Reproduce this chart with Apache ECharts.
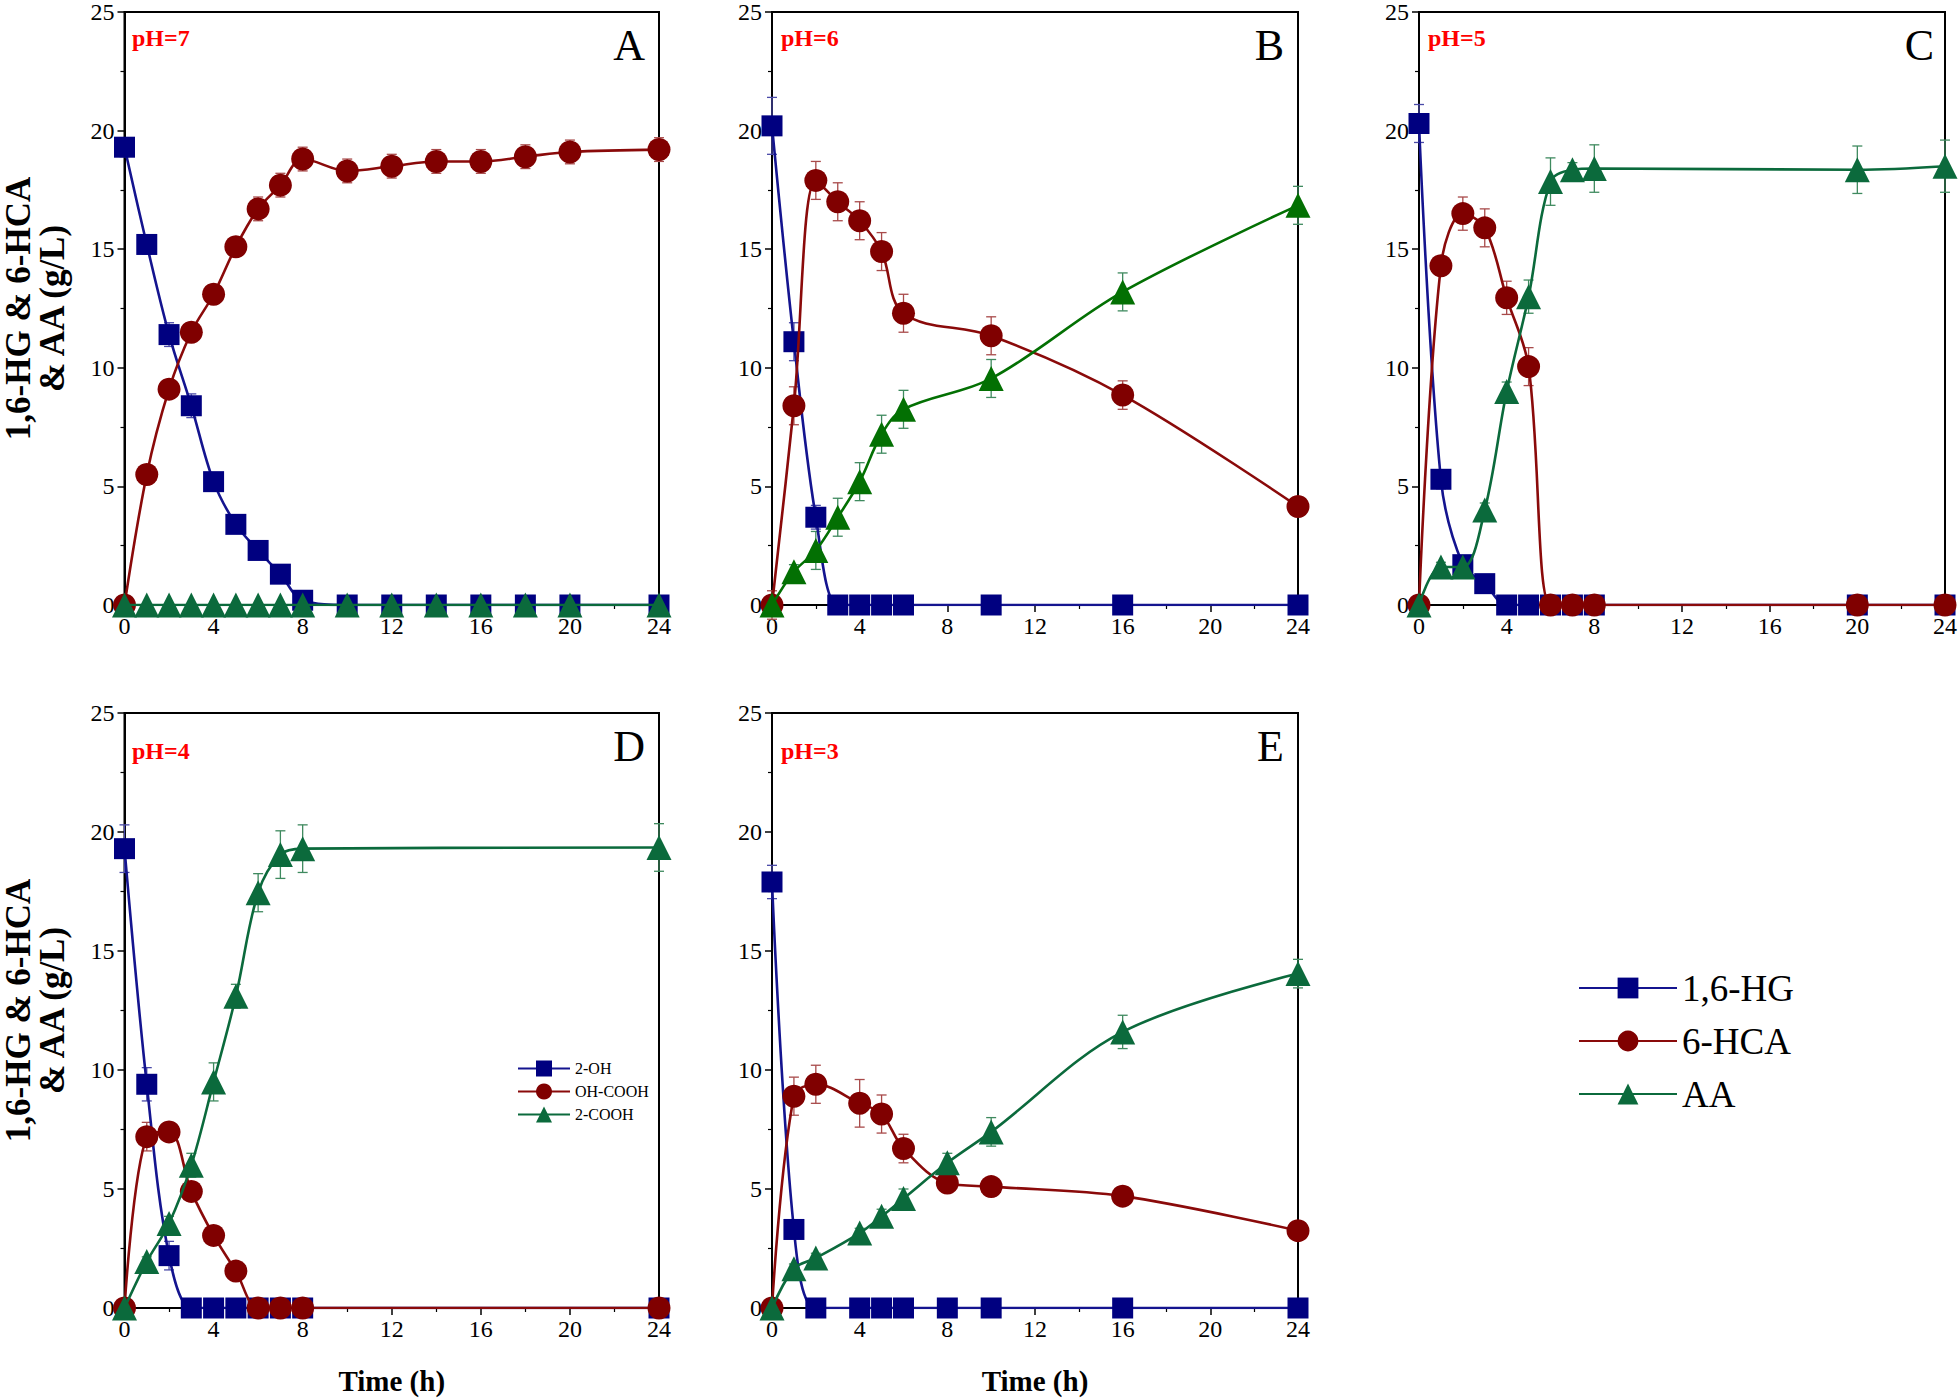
<!DOCTYPE html>
<html>
<head>
<meta charset="utf-8">
<script src="https://cdn.jsdelivr.net/npm/echarts@6/dist/echarts.min.js"></script>
<style>
html,body{margin:0;padding:0;background:#fff;}
#chart{width:1960px;height:1398px;}
</style>
</head>
<body>
<div id="chart"></div>
<script>
// ---------- data ----------
const seriesNames = ['1,6-HG', '6-HCA', 'AA'];
const insetNames = ['2-OH', 'OH-COOH', '2-COOH'];
const xTicks = [0, 4, 8, 12, 16, 20, 24];
const yTicks = [0, 5, 10, 15, 20, 25];

// Panel A, pH=7
const tA = [0, 1, 2, 3, 4, 5, 6, 7, 8, 10, 12, 14, 16, 18, 20, 24];
const hgA = [19.3, 15.2, 11.4, 8.4, 5.2, 3.4, 2.3, 1.3, 0.2, 0, 0, 0, 0, 0, 0, 0];
const hgErrA = [0.4, 0.4, 0.5, 0.5, 0.3, 0.2, 0.2, 0.2, 0.2, 0, 0, 0, 0, 0, 0, 0];
const hcaA = [0, 5.5, 9.1, 11.5, 13.1, 15.1, 16.7, 17.7, 18.8, 18.3, 18.5, 18.7, 18.7, 18.9, 19.1, 19.2];
const hcaErrA = [0.3, 0.3, 0.3, 0.3, 0.3, 0.4, 0.5, 0.5, 0.5, 0.5, 0.5, 0.5, 0.5, 0.5, 0.5, 0.5];
const aaA = [0, 0, 0, 0, 0, 0, 0, 0, 0, 0, 0, 0, 0, 0, 0, 0];
const aaErrA = [0, 0, 0, 0, 0, 0, 0, 0, 0, 0, 0, 0, 0, 0, 0, 0];

// Panel B, pH=6
const tB = [0, 1, 2, 3, 4, 5, 6, 10, 16, 24];
const hgB = [20.2, 11.1, 3.7, 0, 0, 0, 0, 0, 0, 0];
const hgErrB = [1.2, 0.8, 0.5, 0, 0, 0, 0, 0, 0, 0];
const hcaB = [0, 8.4, 17.9, 17.0, 16.2, 14.9, 12.3, 11.35, 8.85, 4.15];
const hcaErrB = [0.6, 0.8, 0.8, 0.8, 0.8, 0.8, 0.8, 0.8, 0.6, 0.3];
const aaB = [0, 1.4, 2.3, 3.7, 5.2, 7.2, 8.25, 9.55, 13.2, 16.85];
const aaErrB = [0, 0.3, 0.8, 0.8, 0.8, 0.8, 0.8, 0.8, 0.8, 0.8];

// Panel C, pH=5
const tC = [0, 1, 2, 3, 4, 5, 6, 7, 8, 20, 24];
const hgC = [20.3, 5.3, 1.7, 0.9, 0, 0, 0, 0, 0, 0, 0];
const hgErrC = [0.8, 0.4, 0.3, 0.2, 0, 0, 0, 0, 0, 0, 0];
const hcaC = [0, 14.3, 16.5, 15.9, 12.95, 10.05, 0, 0, 0, 0, 0];
const hcaErrC = [0, 0.3, 0.7, 0.8, 0.7, 0.8, 0, 0, 0, 0.3, 0];
const aaC = [0, 1.6, 1.6, 4.0, 9.0, 13.0, 17.85, 18.35, 18.4, 18.35, 18.5];
const aaErrC = [0, 0.2, 0.2, 0.3, 0.4, 0.7, 1.0, 0.3, 1.0, 1.0, 1.1];

// Panel D, pH=4
const tD = [0, 1, 2, 3, 4, 5, 6, 7, 8, 24];
const hgD = [19.3, 9.4, 2.2, 0, 0, 0, 0, 0, 0, 0];
const hgErrD = [1.0, 0.7, 0.6, 0, 0, 0, 0, 0, 0, 0];
const hcaD = [0, 7.2, 7.4, 4.9, 3.05, 1.55, 0, 0, 0, 0];
const hcaErrD = [0, 0.6, 0.4, 0.2, 0.2, 0.2, 0, 0, 0, 0];
const aaD = [0, 1.95, 3.55, 6.0, 9.5, 13.1, 17.45, 19.05, 19.3, 19.35];
const aaErrD = [0, 0.2, 0.3, 0.5, 0.8, 0.5, 0.8, 1.0, 1.0, 1.0];

// Panel E, pH=3
const tE = [0, 1, 2, 4, 5, 6, 8, 10, 16, 24];
const hgE = [17.9, 3.3, 0, 0, 0, 0, 0, 0, 0, 0];
const hgErrE = [0.7, 0.3, 0, 0, 0, 0, 0, 0, 0, 0];
const hcaE = [0, 8.9, 9.4, 8.6, 8.15, 6.7, 5.25, 5.1, 4.7, 3.25];
const hcaErrE = [0, 0.8, 0.8, 1.0, 0.8, 0.6, 0.4, 0.2, 0.2, 0.2];
const aaE = [0, 1.65, 2.1, 3.15, 3.85, 4.6, 6.1, 7.4, 11.6, 14.05];
const aaErrE = [0, 0.2, 0.2, 0.2, 0.3, 0.4, 0.4, 0.6, 0.7, 0.6];

const phLabels = ['pH=7', 'pH=6', 'pH=5', 'pH=4', 'pH=3'];
const panelLetters = ['A', 'B', 'C', 'D', 'E'];
const yTitle = '1,6-HG & 6-HCA\n& AA (g/L)';
const xTitle = 'Time (h)';

// ---------- layout & style ----------
const FONT = '"Liberation Serif", "Times New Roman", serif';
const panels = [
  {t: tA, v: [hgA, hcaA, aaA], e: [hgErrA, hcaErrA, aaErrA], grid: {left: 123, top: 11, width: 536, height: 594}, phLeft: 132, phTop: 26, letTop: 23, yName: true, xName: false, names: seriesNames, green: '#0b6a3c'},
  {t: tB, v: [hgB, hcaB, aaB], e: [hgErrB, hcaErrB, aaErrB], grid: {left: 772, top: 11, width: 526, height: 594}, phLeft: 781, phTop: 26, letTop: 23, yName: false, xName: false, names: seriesNames, green: '#037003'},
  {t: tC, v: [hgC, hcaC, aaC], e: [hgErrC, hcaErrC, aaErrC], grid: {left: 1419, top: 11, width: 529, height: 594}, phLeft: 1428, phTop: 26, letTop: 23, yName: false, xName: false, names: seriesNames, green: '#0b6a3c'},
  {t: tD, v: [hgD, hcaD, aaD], e: [hgErrD, hcaErrD, aaErrD], grid: {left: 123, top: 713, width: 536, height: 595}, phLeft: 132, phTop: 739, letTop: 724, yName: true, xName: true, names: insetNames, green: '#0b6a3c'},
  {t: tE, v: [hgE, hcaE, aaE], e: [hgErrE, hcaErrE, aaErrE], grid: {left: 772, top: 713, width: 526, height: 595}, phLeft: 781, phTop: 739, letTop: 724, yName: false, xName: true, names: seriesNames, green: '#0b6a3c'}
];
const markerColors = ['#000080', '#800000', null];
const lineColors = ['#14148f', '#8a0a0a', null];
const errColors = ['#4a4aa8', '#a84a4a', '#3f8a5f'];
const symbols = ['rect', 'circle', 'triangle'];
const symbolSizes = [21, 23, 25];

const grids = [], xAxes = [], yAxes = [], series = [], titles = [];

function errRender(color) {
  return function (params, api) {
    const x = api.value(0), lo = api.value(1), hi = api.value(2);
    const a = api.coord([x, lo]), b = api.coord([x, hi]);
    const c = 5;
    const st = {stroke: color, lineWidth: 1.3};
    return {type: 'group', children: [
      {type: 'line', shape: {x1: a[0], y1: a[1], x2: b[0], y2: b[1]}, style: st},
      {type: 'line', shape: {x1: a[0] - c, y1: a[1], x2: a[0] + c, y2: a[1]}, style: st},
      {type: 'line', shape: {x1: b[0] - c, y1: b[1], x2: b[0] + c, y2: b[1]}, style: st}
    ]};
  };
}

panels.forEach((p, i) => {
  grids.push(Object.assign({show: true, borderColor: '#000', borderWidth: 2, backgroundColor: 'transparent'}, p.grid));
  const axisCommon = {
    type: 'value', gridIndex: i,
    axisLine: {show: true, onZero: false, lineStyle: {color: '#000', width: 2}},
    axisTick: {show: true, inside: false, length: 7, lineStyle: {color: '#000', width: 1.5}},
    minorTick: {show: true, splitNumber: 2, length: 4, lineStyle: {color: '#000', width: 1.2}},
    splitLine: {show: false},
    axisLabel: {color: '#000', fontFamily: FONT, fontSize: 24}
  };
  xAxes.push(Object.assign({}, axisCommon, {
    min: xTicks[0], max: xTicks[xTicks.length - 1], interval: xTicks[1] - xTicks[0],
    axisLabel: Object.assign({}, axisCommon.axisLabel, {margin: 9}),
    name: p.xName ? xTitle : '', nameLocation: 'middle', nameGap: 58,
    nameTextStyle: {color: '#000', fontFamily: FONT, fontSize: 29, fontWeight: 'bold'}
  }));
  yAxes.push(Object.assign({}, axisCommon, {
    min: yTicks[0], max: yTicks[yTicks.length - 1], interval: yTicks[1] - yTicks[0],
    axisLabel: Object.assign({}, axisCommon.axisLabel, {margin: 10}),
    name: p.yName ? yTitle : '', nameLocation: 'middle', nameGap: 55, nameRotate: 90,
    nameTextStyle: {color: '#000', fontFamily: FONT, fontSize: 35, fontWeight: 'bold', lineHeight: 34, align: 'center'}
  }));
  // error bars first (under markers)
  for (let k = 0; k < 3; k++) {
    const d = [];
    p.t.forEach((x, j) => { if (p.e[k][j] > 0) d.push([x, p.v[k][j] - p.e[k][j], p.v[k][j] + p.e[k][j]]); });
    series.push({type: 'custom', xAxisIndex: i, yAxisIndex: i, renderItem: errRender(errColors[k]), data: d, z: 1, silent: true, clip: false});
  }
  for (let k = 0; k < 3; k++) {
    const mc = markerColors[k] || p.green;
    const lc = lineColors[k] || p.green;
    series.push({
      type: 'line', name: p.names[k], xAxisIndex: i, yAxisIndex: i,
      data: p.t.map((x, j) => [x, p.v[k][j]]),
      smooth: 0.35,
      symbol: symbols[k], symbolSize: symbolSizes[k], showAllSymbol: true,
      itemStyle: {color: mc},
      lineStyle: {color: lc, width: 2.6},
      z: 2 + k, animation: false
    });
  }
  titles.push({text: phLabels[i], left: p.phLeft, top: p.phTop, padding: 0,
    textStyle: {color: '#ff0000', fontFamily: FONT, fontSize: 24, fontWeight: 'bold'}});
  titles.push({text: panelLetters[i], right: 1960 - (p.grid.left + p.grid.width - 14), top: p.letTop, padding: 0,
    textStyle: {color: '#000', fontFamily: FONT, fontSize: 44, fontWeight: 'normal'}});
});

const chart = echarts.init(document.getElementById('chart'), null, {renderer: 'svg', width: 1960, height: 1398});
chart.setOption({
  backgroundColor: '#fff',
  animation: false,
  title: titles,
  grid: grids,
  xAxis: xAxes,
  yAxis: yAxes,
  legend: [
    {data: seriesNames, orient: 'vertical', left: 1573, top: 961, itemWidth: 98, itemHeight: 26, itemGap: 9,
      selectedMode: false,
      textStyle: {color: '#000', fontFamily: FONT, fontSize: 37, lineHeight: 44}},
    {data: insetNames, orient: 'vertical', left: 512, top: 1054, itemWidth: 52, itemHeight: 20, itemGap: 4,
      selectedMode: false,
      textStyle: {color: '#000', fontFamily: FONT, fontSize: 16, lineHeight: 19}}
  ],
  series: series
});
</script>
</body>
</html>
